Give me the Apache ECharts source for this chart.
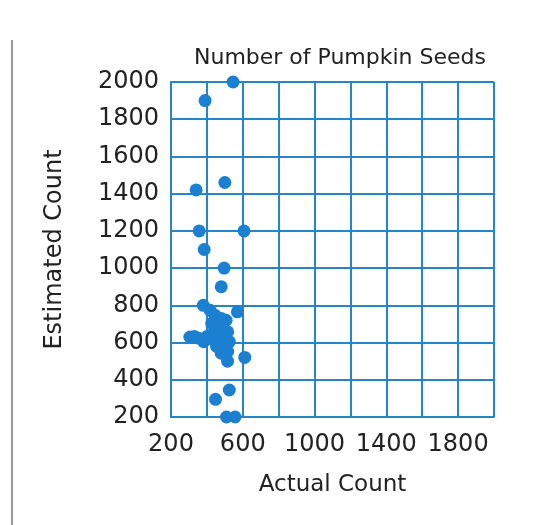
<!DOCTYPE html>
<html>
<head>
<meta charset="utf-8">
<script src="https://cdn.jsdelivr.net/npm/echarts@6/dist/echarts.min.js"></script>
<style>
  html, body { margin: 0; padding: 0; background: #fff; }
  #chart { width: 545px; height: 525px; }
</style>
</head>
<body>
<div id="chart"></div>
<script>
// 数据：实际数量 / 估计数量
var actualCounts = [546, 390, 340, 500, 357, 607, 385, 496, 480, 380, 570, 305, 350, 611, 515, 525, 448, 509, 557,
  418, 445, 480, 507, 462, 436, 489, 516, 382, 454, 480, 516, 436, 471, 498, 427, 525, 400, 330];
var estimatedCounts = [2000, 1900, 1420, 1460, 1200, 1200, 1100, 1000, 900, 800, 765, 630, 625, 520, 500, 345, 295, 200, 200,
  773, 747, 729, 720, 685, 650, 632, 658, 605, 579, 543, 552, 614, 605, 588, 703, 605, 632, 632];
var xTicks = [200, 600, 1000, 1400, 1800];

var points = actualCounts.map(function (a, i) { return [a, estimatedCounts[i]]; });

var blue = '#2585c8';
var dot = '#1c80d2';
var font = 'DejaVu Sans';

var myChart = echarts.init(document.getElementById('chart'));

var option = {
  backgroundColor: '#ffffff',
  animation: false,
  title: {
    text: 'Number of Pumpkin Seeds',
    left: 335,
    top: 42,
    textAlign: 'center',
    textStyle: { fontFamily: font, fontSize: 22, fontWeight: 'normal', color: '#222' }
  },
  grid: { left: 171, top: 82, right: 51, bottom: 108 },
  xAxis: {
    type: 'value',
    min: 200, max: 2000, interval: 200,
    name: 'Actual Count',
    nameLocation: 'middle',
    nameGap: 57,
    nameTextStyle: { fontFamily: font, fontSize: 23, color: '#222' },
    axisLine: { show: true, lineStyle: { color: blue, width: 2 } },
    axisTick: { show: false },
    splitLine: { show: true, lineStyle: { color: blue, width: 2 } },
    axisLabel: {
      fontFamily: font, fontSize: 24, color: '#222', margin: 16,
      formatter: function (v) { return xTicks.indexOf(v) >= 0 ? String(v) : ''; }
    }
  },
  yAxis: {
    type: 'value',
    min: 200, max: 2000, interval: 200,
    name: 'Estimated Count',
    nameLocation: 'middle',
    nameGap: 104,
    nameTextStyle: { fontFamily: font, fontSize: 24, color: '#222' },
    axisLine: { show: true, lineStyle: { color: blue, width: 2 } },
    axisTick: { show: false },
    splitLine: { show: true, lineStyle: { color: blue, width: 2 } },
    axisLabel: {
      fontFamily: font, fontSize: 24, color: '#222', margin: 12,
      formatter: function (v) { return String(v); }
    }
  },
  graphic: [{
    type: 'line',
    shape: { x1: 12, y1: 40, x2: 12, y2: 525 },
    style: { stroke: '#9a9a9a', lineWidth: 2 }
  }],
  series: [{
    type: 'scatter',
    data: points,
    symbolSize: 13,
    itemStyle: { color: dot, opacity: 1 }
  }]
};

myChart.setOption(option);
</script>
</body>
</html>
